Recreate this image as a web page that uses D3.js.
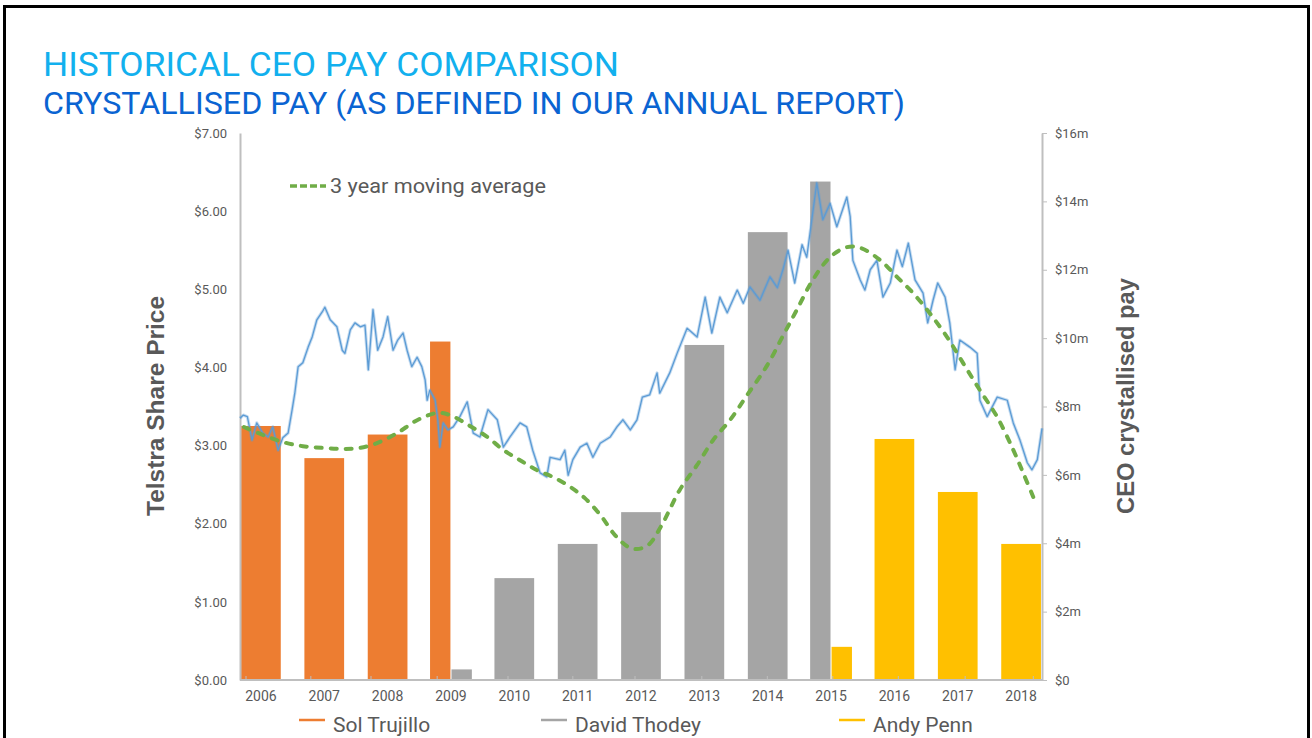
<!DOCTYPE html>
<html lang="en">
<head>
<meta charset="utf-8">
<title>Historical CEO pay comparison</title>
<script src="https://d3js.org/d3.v7.min.js"></script>
<style>
  body { margin: 0; background: #fff; }
  svg { display: block; }
  text { font-family: Roboto, "Liberation Sans", sans-serif; }
</style>
</head>
<body>
<script>
// ---- data ----
var years = ["2006", "2007", "2008", "2009", "2010", "2011", "2012", "2013", "2014", "2015", "2016", "2017", "2018"];
var ceos = ["Sol Trujillo", "David Thodey", "Andy Penn"];

// crystallised pay, $m
var solPay   = [7.43, 6.49, 7.18, 9.90, null, null, null, null, null, null, null, null, null];
var davidPay = [null, null, null, 0.31, 2.98, 3.98, 4.91, 9.80, 13.10, 14.58, null, null, null];
var andyPay  = [null, null, null, null, null, null, null, null, null, 0.97, 7.05, 5.50, 3.98];

var priceTicks = [0, 1, 2, 3, 4, 5, 6, 7];
var payTicks = [0, 2, 4, 6, 8, 10, 12, 14, 16];

// Telstra share price ($), by decimal year
var priceYear = [2006.50, 2006.55, 2006.61, 2006.68, 2006.75, 2006.84, 2006.92, 2006.99, 2007.07, 2007.14,
  2007.22, 2007.28, 2007.32, 2007.37, 2007.44, 2007.52, 2007.58, 2007.65, 2007.73, 2007.77,
  2007.85, 2007.95, 2008.03, 2008.07, 2008.15, 2008.22, 2008.30, 2008.37, 2008.42, 2008.49,
  2008.56, 2008.64, 2008.71, 2008.79, 2008.86, 2008.94, 2009.00, 2009.07, 2009.15, 2009.22,
  2009.27, 2009.30, 2009.34, 2009.42, 2009.46, 2009.49, 2009.54, 2009.61, 2009.69, 2009.79,
  2009.90, 2009.99, 2010.09, 2010.21, 2010.35, 2010.44, 2010.54, 2010.69, 2010.79, 2010.88,
  2010.99, 2011.09, 2011.14, 2011.29, 2011.36, 2011.41, 2011.48, 2011.59, 2011.69, 2011.78,
  2011.89, 2012.04, 2012.14, 2012.23, 2012.34, 2012.44, 2012.52, 2012.63, 2012.74, 2012.78,
  2012.93, 2013.04, 2013.19, 2013.34, 2013.46, 2013.56, 2013.68, 2013.79, 2013.94, 2014.03,
  2014.13, 2014.28, 2014.43, 2014.54, 2014.63, 2014.70, 2014.80, 2014.91, 2014.98, 2015.07,
  2015.13, 2015.18, 2015.22, 2015.33, 2015.43, 2015.58, 2015.63, 2015.67, 2015.78, 2015.85,
  2015.93, 2016.03, 2016.12, 2016.23, 2016.33, 2016.41, 2016.50, 2016.60, 2016.72, 2016.79,
  2016.87, 2016.94, 2017.05, 2017.12, 2017.20, 2017.27, 2017.42, 2017.53, 2017.57, 2017.68,
  2017.83, 2017.98, 2018.07, 2018.17, 2018.28, 2018.35, 2018.43, 2018.50];
var price = [3.35, 3.39, 3.37, 3.07, 3.29, 3.16, 3.11, 3.24, 2.94, 3.10,
  3.16, 3.46, 3.67, 4.01, 4.06, 4.26, 4.39, 4.61, 4.71, 4.77,
  4.61, 4.52, 4.22, 4.18, 4.48, 4.57, 4.52, 4.54, 3.97, 4.74,
  4.22, 4.39, 4.65, 4.22, 4.35, 4.44, 4.22, 4.01, 4.13, 4.01,
  3.84, 3.58, 3.71, 3.58, 3.33, 2.98, 3.29, 3.20, 3.24, 3.37,
  3.56, 3.16, 3.11, 3.46, 3.33, 2.98, 3.11, 3.29, 3.24, 2.94,
  2.65, 2.60, 2.85, 2.82, 2.94, 2.62, 2.82, 2.98, 3.03, 2.85,
  3.03, 3.11, 3.24, 3.33, 3.20, 3.33, 3.62, 3.65, 3.93, 3.67,
  3.93, 4.18, 4.50, 4.39, 4.90, 4.44, 4.90, 4.70, 4.99, 4.82,
  5.03, 4.86, 5.16, 5.02, 5.27, 5.50, 5.08, 5.57, 5.41, 5.98,
  6.36, 6.10, 5.89, 6.10, 5.80, 6.18, 5.93, 5.37, 5.12, 4.99,
  5.25, 5.37, 4.90, 5.08, 5.50, 5.29, 5.59, 5.12, 4.95, 4.57,
  4.86, 5.08, 4.90, 4.57, 3.97, 4.35, 4.26, 4.18, 3.58, 3.37,
  3.62, 3.58, 3.29, 3.07, 2.78, 2.69, 2.82, 3.22];

// 3 year moving average of pay ($m)
var avgYear = [2006.56, 2006.84, 2007.14, 2007.44, 2007.74, 2008.04, 2008.30, 2008.55, 2008.85, 2009.15,
  2009.45, 2009.64, 2009.94, 2010.20, 2010.44, 2010.69, 2010.94, 2011.18, 2011.44, 2011.66,
  2011.89, 2012.11, 2012.31, 2012.44, 2012.61, 2012.81, 2013.08, 2013.34, 2013.58, 2013.83,
  2014.09, 2014.39, 2014.63, 2014.83, 2015.07, 2015.33, 2015.58, 2015.78, 2016.08, 2016.33,
  2016.57, 2016.82, 2017.08, 2017.32, 2017.57, 2017.83, 2018.07, 2018.22, 2018.37];
var avgPay = [7.40, 7.17, 6.96, 6.84, 6.79, 6.76, 6.79, 6.93, 7.22, 7.60,
  7.81, 7.75, 7.43, 7.11, 6.73, 6.43, 6.14, 5.94, 5.65, 5.32,
  4.83, 4.24, 3.89, 3.83, 3.95, 4.53, 5.56, 6.29, 7.02, 7.60,
  8.34, 9.21, 10.09, 10.82, 11.70, 12.37, 12.66, 12.64, 12.28, 11.79,
  11.32, 10.73, 10.03, 9.27, 8.48, 7.69, 6.73, 6.05, 5.35];

// small marks of the date axis
var dateMarks = [2006.59, 2007.56, 2008.46, 2009.45, 2010.51, 2011.48, 2012.41, 2013.41, 2014.39, 2015.37, 2016.35, 2017.35, 2018.37];

// ---- styles ----
var ceoColors = ["#ed7d31", "#a5a5a5", "#ffc000"];
var priceColor = "#5b9bd5";
var avgColor = "#70ad47";
var labelColor = "#595959";
var axisColor = "#bfbfbf";

var W = 1312, H = 738;
var margin = {top: 133, right: 270, bottom: 58, left: 240},
    width = W - margin.left - margin.right,
    height = H - margin.top - margin.bottom;

var svg = d3.select("body").append("svg")
    .attr("width", W)
    .attr("height", H);

// slide frame
svg.append("path")
    .attr("d", "M4.5," + H + "V6.5H1308.5V" + H)
    .attr("fill", "none")
    .attr("stroke", "#000")
    .attr("stroke-width", 3);

// titles
svg.append("text")
    .attr("x", 43).attr("y", 76)
    .attr("fill", "#12b0ee")
    .style("font-size", "34px")
    .attr("textLength", 576)
    .attr("lengthAdjust", "spacingAndGlyphs")
    .text("HISTORICAL CEO PAY COMPARISON");

svg.append("text")
    .attr("x", 43).attr("y", 114)
    .attr("fill", "#0a64d2")
    .style("font-size", "31px")
    .attr("textLength", 862)
    .attr("lengthAdjust", "spacingAndGlyphs")
    .text("CRYSTALLISED PAY (AS DEFINED IN OUR ANNUAL REPORT)");

var g = svg.append("g")
    .attr("transform", "translate(" + margin.left + "," + margin.top + ")");

// scales
var x = d3.scaleBand().domain(years).range([0, width]).paddingInner(0.34).paddingOuter(0);
var xDate = d3.scaleLinear().domain([2006.5, 2018.5]).range([0, width]);
var yPrice = d3.scaleLinear().domain([0, 7]).range([height, 0]);
var yPay = d3.scaleLinear().domain([0, 16]).range([height, 0]);

// bars: split years share their band between CEOs
var payByCeo = [solPay, davidPay, andyPay];
var bars = [];
years.forEach(function(yr, i) {
    var present = ceos.filter(function(c, k) { return payByCeo[k][i] != null; });
    var inner = d3.scaleBand().domain(present).range([0, x.bandwidth()]).paddingInner(0.05);
    present.forEach(function(c) {
        var k = ceos.indexOf(c);
        bars.push({year: yr, ceo: c, k: k, value: payByCeo[k][i], x0: x(yr) + inner(c), bw: inner.bandwidth()});
    });
});

g.selectAll("rect.bar")
    .data(bars)
    .enter()
    .append("rect")
    .attr("class", "bar")
    .attr("x", function(d) { return d.x0; })
    .attr("width", function(d) { return d.bw; })
    .attr("y", function(d) { return yPay(d.value); })
    .attr("height", function(d) { return height - yPay(d.value); })
    .attr("fill", function(d) { return ceoColors[d.k]; });

// left axis
var leftAxis = g.append("g")
    .call(d3.axisLeft(yPrice).tickValues(priceTicks).tickSize(0).tickPadding(13)
        .tickFormat(function(d) { return "$" + d3.format(".2f")(d); }));
leftAxis.select(".domain").attr("stroke", axisColor).attr("stroke-width", 2);
leftAxis.selectAll("text").attr("fill", labelColor).style("font-size", "13px");

// right axis
var rightAxis = g.append("g")
    .attr("transform", "translate(" + width + ",0)")
    .call(d3.axisRight(yPay).tickValues(payTicks).tickSize(5).tickSizeOuter(0).tickPadding(8)
        .tickFormat(function(d) { return d === 0 ? "$0" : "$" + d + "m"; }));
rightAxis.select(".domain").attr("stroke", axisColor).attr("stroke-width", 2);
rightAxis.selectAll("line").attr("stroke", axisColor);
rightAxis.selectAll("text").attr("fill", labelColor).style("font-size", "13px");

// bottom axis: year labels under bars
var bottomAxis = g.append("g")
    .attr("transform", "translate(0," + height + ")")
    .call(d3.axisBottom(x).tickSize(0).tickPadding(11));
bottomAxis.select(".domain").remove();
bottomAxis.selectAll("text").attr("fill", labelColor).style("font-size", "14px");

g.append("line")
    .attr("x1", 0).attr("x2", width)
    .attr("y1", height).attr("y2", height)
    .attr("stroke", axisColor)
    .attr("stroke-width", 2);

g.selectAll("line.mark")
    .data(dateMarks)
    .enter()
    .append("line")
    .attr("class", "mark")
    .attr("x1", function(d) { return xDate(d); })
    .attr("x2", function(d) { return xDate(d); })
    .attr("y1", height)
    .attr("y2", height - 4)
    .attr("stroke", axisColor);

// share price, drawn twice for the doubled look of the daily series
var priceLine = d3.line()
    .x(function(d) { return xDate(d[0]); })
    .y(function(d) { return yPrice(d[1]); });

g.append("path")
    .datum(d3.zip(priceYear, price))
    .attr("d", priceLine)
    .attr("fill", "none")
    .attr("stroke", priceColor)
    .attr("stroke-opacity", 0.35)
    .attr("stroke-width", 3.2)
    .attr("stroke-linejoin", "round");

g.append("path")
    .datum(d3.zip(priceYear, price))
    .attr("d", priceLine)
    .attr("fill", "none")
    .attr("stroke", priceColor)
    .attr("stroke-width", 1.3)
    .attr("stroke-linejoin", "round");

// moving average
var avgLine = d3.line()
    .curve(d3.curveCatmullRom)
    .x(function(d) { return xDate(d[0]); })
    .y(function(d) { return yPay(d[1]); });

g.append("path")
    .datum(d3.zip(avgYear, avgPay))
    .attr("d", avgLine)
    .attr("fill", "none")
    .attr("stroke", avgColor)
    .attr("stroke-width", 4)
    .attr("stroke-linecap", "round")
    .attr("stroke-dasharray", "6,9");

// moving average legend
g.append("line")
    .attr("x1", 50).attr("x2", 86)
    .attr("y1", 53).attr("y2", 53)
    .attr("stroke", avgColor)
    .attr("stroke-width", 3.5)
    .attr("stroke-dasharray", "7,3");

g.append("text")
    .attr("x", 90).attr("y", 60)
    .attr("fill", labelColor)
    .style("font-size", "20px")
    .attr("textLength", 216)
    .attr("lengthAdjust", "spacingAndGlyphs")
    .text("3 year moving average");

// axis titles
svg.append("text")
    .attr("transform", "translate(156,406) rotate(-90)")
    .attr("text-anchor", "middle")
    .attr("dominant-baseline", "central")
    .attr("fill", labelColor)
    .style("font-family", "'Liberation Sans', Arial, sans-serif")
    .style("font-weight", "bold")
    .style("font-size", "23px")
    .attr("textLength", 220)
    .attr("lengthAdjust", "spacingAndGlyphs")
    .text("Telstra Share Price");

svg.append("text")
    .attr("transform", "translate(1126,396) rotate(-90)")
    .attr("text-anchor", "middle")
    .attr("dominant-baseline", "central")
    .attr("fill", labelColor)
    .style("font-family", "'Liberation Sans', Arial, sans-serif")
    .style("font-weight", "bold")
    .style("font-size", "23px")
    .attr("textLength", 236)
    .attr("lengthAdjust", "spacingAndGlyphs")
    .text("CEO crystallised pay");

// CEO legend
var legendX = [299, 541, 839];
var legend = svg.selectAll("g.legend")
    .data(ceos)
    .enter()
    .append("g")
    .attr("class", "legend")
    .attr("transform", function(d, i) { return "translate(" + legendX[i] + ",720)"; });

legend.append("line")
    .attr("x1", 0).attr("x2", 26)
    .attr("stroke", function(d, i) { return ceoColors[i]; })
    .attr("stroke-width", 2.5);

legend.append("text")
    .attr("x", 34).attr("y", 12)
    .attr("fill", labelColor)
    .style("font-size", "21px")
    .text(function(d) { return d; });
</script>
</body>
</html>
